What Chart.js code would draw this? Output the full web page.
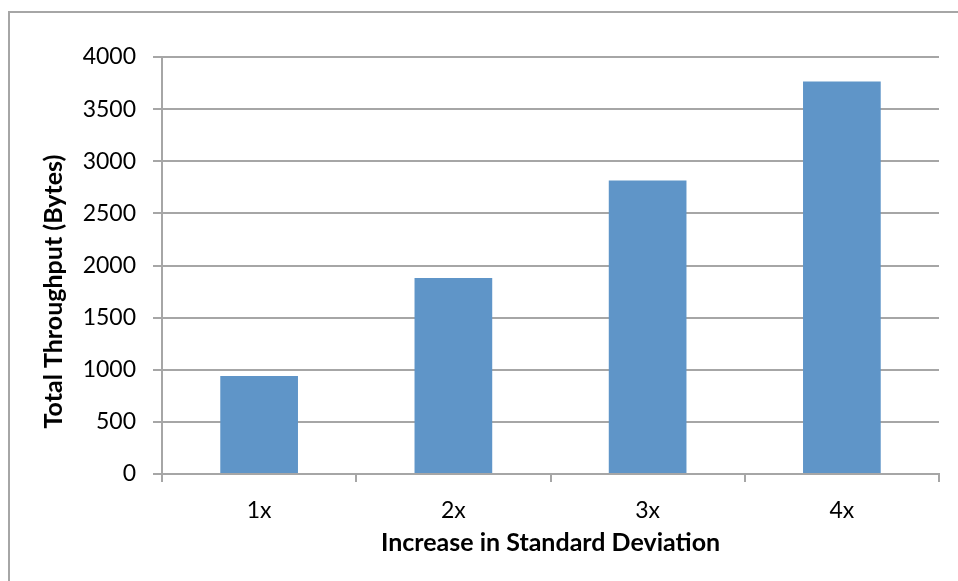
<!DOCTYPE html>
<html>
<head>
<meta charset="utf-8">
<script src="https://cdn.jsdelivr.net/npm/chart.js@4/dist/chart.umd.min.js"></script>
<style>
  html, body { margin: 0; padding: 0; background: #fff; overflow: hidden; }
  #frame { position: absolute; left: 8px; top: 11px; width: 1200px; height: 1200px; border: 2px solid #a6a6a6; }
  #c { position: absolute; left: 0; top: 0; }
</style>
</head>
<body>
<div id="frame"></div>
<canvas id="c" width="958" height="581"></canvas>
<script>
// data
const categories = ["1x", "2x", "3x", "4x"];
const throughput = [940, 1880, 2815, 3765];
const yTitle = "Total Throughput (Bytes)";
const xTitle = "Increase in Standard Deviation";

const gridColor = "#a6a6a6";
const fontFamily = "Lato, 'Open Sans', sans-serif";

// y-axis title is sitting a bit lower than the axis centre, so draw it by hand
const yTitlePlugin = {
  id: "yTitle",
  afterDraw(chart) {
    const { ctx, chartArea } = chart;
    ctx.save();
    ctx.translate(chartArea.left - 108, (chartArea.top + chartArea.bottom) / 2 + 26);
    ctx.rotate(-Math.PI / 2);
    ctx.font = "bold 25px " + fontFamily;
    ctx.fillStyle = "#000";
    ctx.textAlign = "center";
    ctx.textBaseline = "middle";
    ctx.fillText(yTitle, 0, 0);
    ctx.restore();
  }
};

new Chart(document.getElementById("c"), {
  type: "bar",
  data: {
    labels: categories,
    datasets: [{
      data: throughput,
      backgroundColor: "#5f95c8",
      borderWidth: 0,
      barPercentage: 0.4,
      categoryPercentage: 1
    }]
  },
  options: {
    responsive: false,
    animation: false,
    layout: { padding: { top: 57, right: 19, left: 0, bottom: 0 } },
    plugins: { legend: { display: false }, tooltip: { enabled: false } },
    scales: {
      x: {
        afterFit: s => { s.height = 107; },
        grid: { offset: true, drawOnChartArea: false, drawTicks: true, tickLength: 8, color: gridColor, lineWidth: 2 },
        border: { color: gridColor, width: 2 },
        ticks: { color: "#000", font: { family: fontFamily, size: 23 }, padding: 15 },
        title: {
          display: true, text: xTitle, color: "#000",
          font: { family: fontFamily, size: 25, weight: "bold" },
          padding: { top: 0, bottom: 23 }
        }
      },
      y: {
        min: 0, max: 4000,
        afterFit: s => { s.width = 162; },
        grid: { color: gridColor, lineWidth: 2, tickLength: 9 },
        border: { color: gridColor, width: 2 },
        ticks: {
          stepSize: 500, color: "#000", font: { family: fontFamily, size: 23 }, padding: 17,
          callback: v => String(v)
        }
      }
    }
  },
  plugins: [yTitlePlugin]
});
</script>
</body>
</html>
